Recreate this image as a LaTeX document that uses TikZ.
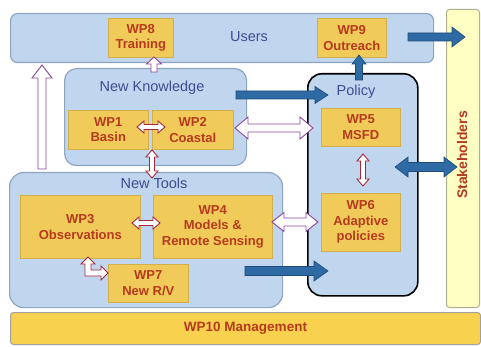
\documentclass[tikz,border=0pt]{standalone}
\usepackage{fontspec}
\setmainfont{Liberation Sans}
\usetikzlibrary{calc}
\definecolor{boxblue}{HTML}{C0D5EE}
\definecolor{boxedge}{HTML}{8EA5C2}
\definecolor{gold}{HTML}{F0CB5A}
\definecolor{goldedge}{HTML}{D2AE4C}
\definecolor{wpred}{HTML}{B83A1E}
\definecolor{arrred}{HTML}{A8283A}
\definecolor{lblblue}{HTML}{3E4E90}
\definecolor{arrblue}{HTML}{2E6AA3}
\definecolor{arrbluedk}{HTML}{1F4C7A}
\definecolor{purp}{HTML}{8E44A0}
\definecolor{stakey}{HTML}{FFFFC4}
\definecolor{stakedge}{HTML}{B0B090}
\definecolor{mgmt}{HTML}{F8D24E}
\definecolor{mgmtedge}{HTML}{A0A0A0}
% single fat arrow: style, from, to, half shaft, half head, head length
\newcommand{\fatarrow}[6]{%
  \coordinate (fa-h) at ($(#3)!#6!(#2)$);
  \draw[#1] ($(#2)!#4!90:(#3)$) -- ($(fa-h)!#4!90:(#3)$) -- ($(fa-h)!#5!90:(#3)$) -- (#3)
    -- ($(fa-h)!#5!-90:(#3)$) -- ($(fa-h)!#4!-90:(#3)$) -- ($(#2)!#4!-90:(#3)$) -- cycle;}
% double fat arrow
\newcommand{\fatdarrow}[6]{%
  \coordinate (fa-a) at ($(#2)!#6!(#3)$);
  \coordinate (fa-b) at ($(#3)!#6!(#2)$);
  \draw[#1] (#2) -- ($(fa-a)!#5!90:(#3)$) -- ($(fa-a)!#4!90:(#3)$) -- ($(fa-b)!#4!90:(#3)$)
    -- ($(fa-b)!#5!90:(#3)$) -- (#3) -- ($(fa-b)!#5!-90:(#3)$) -- ($(fa-b)!#4!-90:(#3)$)
    -- ($(fa-a)!#4!-90:(#3)$) -- ($(fa-a)!#5!-90:(#3)$) -- cycle;}
\tikzset{
  group/.style={draw=boxedge, fill=boxblue, line width=1.2pt, rounded corners=12pt, anchor=north west, inner sep=0pt},
  wp/.style={draw=goldedge, fill=gold, line width=0.6pt, text=wpred, font=\bfseries\fontsize{13}{15.5}\selectfont, align=center, inner sep=0pt, anchor=north west},
  grplabel/.style={text=lblblue, font=\fontsize{14.5}{17}\selectfont, inner sep=0pt},
  bluearrow/.style={draw=arrbluedk, fill=arrblue, line width=0.6pt},
  purparrow/.style={draw=purp, fill=white, line width=0.9pt},
  redarrow/.style={draw=arrred, fill=white, line width=0.9pt},
}
\begin{document}
\begin{tikzpicture}[x=1pt, y=-1pt]
\useasboundingbox (0,0) rectangle (481,347);
% containers
\node[group, rounded corners=7pt, minimum width=423pt, minimum height=49pt] (users) at (10,13) {};
\node[draw=stakedge, fill=stakey, line width=1pt, rounded corners=3pt, anchor=north west, minimum width=33pt, minimum height=298pt, inner sep=0pt] (stake) at (446,9) {};
\node[draw=mgmtedge, fill=mgmt, line width=1pt, rounded corners=3pt, anchor=north west, minimum width=470pt, minimum height=32pt, inner sep=0pt, text=wpred, font=\bfseries\fontsize{13.5}{15.5}\selectfont] (mgmt) at (10,312) {WP10 Management};
\node[group, minimum width=182pt, minimum height=97pt] (nk) at (64,68) {};
\node[group, rounded corners=14pt, minimum width=273pt, minimum height=135pt] (nt) at (9,172) {};
\node[group, draw=black, line width=1.6pt, rounded corners=14pt, minimum width=110pt, minimum height=222pt] (policy) at (307,73) {};
% work packages
\node[wp, minimum width=65pt, minimum height=39pt] (wp8) at (108,18) {WP8\\Training};
\node[wp, minimum width=69pt, minimum height=39pt] (wp9) at (317,18) {WP9\\Outreach};
\node[wp, minimum width=80pt, minimum height=39pt] (wp1) at (68,110) {WP1\\Basin};
\node[wp, minimum width=81pt, minimum height=39pt] (wp2) at (152,110) {WP2\\Coastal};
\node[wp, minimum width=79pt, minimum height=38pt] (wp5) at (321,108) {WP5\\MSFD};
\node[wp, minimum width=79pt, minimum height=58pt] (wp6) at (321,193) {WP6\\Adaptive\\policies};
\node[wp, minimum width=120pt, minimum height=63pt] (wp3) at (20,195) {WP3\\Observations};
\node[wp, minimum width=119pt, minimum height=63pt] (wp4) at (153,195) {WP4\\Models \&\\Remote Sensing};
\node[wp, minimum width=80pt, minimum height=38pt] (wp7) at (108,264) {WP7\\New R/V};
% labels
\node[grplabel] (lusers) at (249,37) {Users};
\node[grplabel] (lnk) at (152,88) {New Knowledge};
\node[grplabel] (lpol) at (356,92) {Policy};
\node[grplabel] (lnt) at (154,183) {New Tools};
\node[text=wpred, font=\bfseries\fontsize{14}{16}\selectfont, rotate=90, inner sep=0pt] (lstake) at (462,155) {Stakeholders};
% arrow end points
\coordinate (b1s) at (408,37);  \coordinate (b1e) at (465,37);
\coordinate (b2s) at (236,95);  \coordinate (b2e) at (328,95);
\coordinate (b3s) at (359,80);  \coordinate (b3e) at (359,55);
\coordinate (b4s) at (395,167); \coordinate (b4e) at (457,167);
\coordinate (b5s) at (245,271); \coordinate (b5e) at (328,271);
\coordinate (p1s) at (42,169);  \coordinate (p1e) at (42,65);
\coordinate (p2s) at (154,72);  \coordinate (p2e) at (154,57);
\coordinate (p3s) at (235,128); \coordinate (p3e) at (313,128);
\coordinate (p4s) at (272,222); \coordinate (p4e) at (318,222);
\coordinate (r1s) at (137,127); \coordinate (r1e) at (165,127);
\coordinate (r2s) at (152,150); \coordinate (r2e) at (152,178);
\coordinate (r3s) at (363,154); \coordinate (r3e) at (363,186);
\coordinate (r4s) at (132,223); \coordinate (r4e) at (160,223);
% blue arrows
\fatarrow{bluearrow}{b1s}{b1e}{4pt}{10pt}{13pt}
\fatarrow{bluearrow}{b2s}{b2e}{4pt}{8.5pt}{13pt}
\fatarrow{bluearrow}{b3s}{b3e}{3.5pt}{7pt}{9pt}
\fatdarrow{bluearrow}{b4s}{b4e}{4.5pt}{10pt}{13pt}
\fatarrow{bluearrow}{b5s}{b5e}{4.5pt}{10pt}{14pt}
% purple/white arrows
\fatarrow{purparrow}{p1s}{p1e}{4pt}{10pt}{13pt}
\fatarrow{purparrow}{p2s}{p2e}{3pt}{7.5pt}{7pt}
\fatdarrow{purparrow}{p3s}{p3e}{4pt}{11pt}{13pt}
\fatdarrow{purparrow}{p4s}{p4e}{4pt}{9.5pt}{12pt}
% red/white arrows
\fatdarrow{redarrow}{r1s}{r1e}{2.5pt}{6pt}{7pt}
\fatdarrow{redarrow}{r2s}{r2e}{2.5pt}{6pt}{7pt}
\fatdarrow{redarrow}{r3s}{r3e}{2.5pt}{6pt}{7pt}
\fatdarrow{redarrow}{r4s}{r4e}{2.5pt}{6pt}{7pt}
% elbow arrow WP3 <-> WP7
\draw[redarrow] (88,257) -- (95,264) -- (91,264) -- (91,270) -- (101,270) -- (101,266) -- (108,273)
  -- (101,280) -- (101,276) -- (85,276) -- (85,264) -- (81,264) -- cycle;
\end{tikzpicture}
\end{document}
